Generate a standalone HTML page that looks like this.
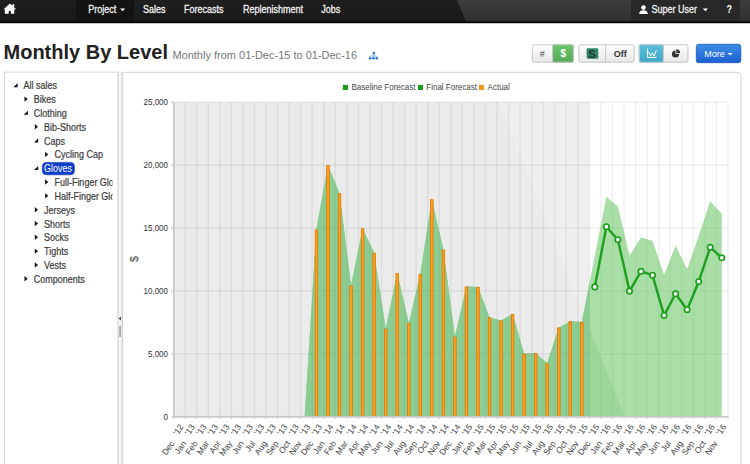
<!DOCTYPE html>
<html><head><meta charset="utf-8"><style>
html,body{margin:0;padding:0;width:750px;height:464px;overflow:hidden;background:#fff;}
svg text{font-family:'Liberation Sans', sans-serif;}
.nv{stroke:#f2f2f2;stroke-width:0.25px;}
.tr{stroke:#3a3a3a;stroke-width:0.18px;}
.ax{stroke:#444;stroke-width:0.15px;}
</style></head><body>
<svg width="750" height="464" viewBox="0 0 750 464" style="display:block">
<defs>
<linearGradient id="nav" x1="0" y1="0" x2="0" y2="1"><stop offset="0" stop-color="#1f1f1f"/><stop offset="1" stop-color="#181818"/></linearGradient>
<linearGradient id="nav2" x1="0" y1="0" x2="0" y2="1"><stop offset="0" stop-color="#3e3e3e"/><stop offset="1" stop-color="#303030"/></linearGradient>
<linearGradient id="btn" x1="0" y1="0" x2="0" y2="1"><stop offset="0" stop-color="#ffffff"/><stop offset="1" stop-color="#e6e6e6"/></linearGradient>
<linearGradient id="btng" x1="0" y1="0" x2="0" y2="1"><stop offset="0" stop-color="#6cc56c"/><stop offset="1" stop-color="#55aa55"/></linearGradient>
<linearGradient id="btnb" x1="0" y1="0" x2="0" y2="1"><stop offset="0" stop-color="#5bbfdb"/><stop offset="1" stop-color="#3ea6c6"/></linearGradient>
<linearGradient id="btnp" x1="0" y1="0" x2="0" y2="1"><stop offset="0" stop-color="#3d8ee8"/><stop offset="1" stop-color="#1a5fcf"/></linearGradient>
</defs>

<rect x="0" y="0" width="750" height="23" fill="url(#nav)"/>
<polygon points="457,0 750,0 750,21.5 466,21.5" fill="url(#nav2)"/>
<rect x="76.2" y="0" width="57.8" height="21.5" fill="#131313"/>
<rect x="631" y="0" width="109" height="21.5" fill="#282828"/>
<rect x="0" y="21.5" width="750" height="1.6" fill="#050505"/><rect x="0" y="23.1" width="750" height="0.6" fill="#000" opacity="0.25"/>
<path d="M3.7,9.3 L9.9,3.4 L12.4,5.8 V4.2 H14.2 V7.5 L16.2,9.3 H14.3 V13.8 H10.9 V11 H8.7 V13.8 H4.8 V9.3 Z" fill="#fff"/>
<text transform="translate(88.2,12.8) scale(1,1.12)" x="0" y="0" font-size="9" fill="#f2f2f2" class="nv">Project</text>
<text transform="translate(143.0,12.8) scale(1,1.12)" x="0" y="0" font-size="9" fill="#f2f2f2" class="nv">Sales</text>
<text transform="translate(184.0,12.8) scale(1,1.12)" x="0" y="0" font-size="9" fill="#f2f2f2" class="nv">Forecasts</text>
<text transform="translate(243.0,12.8) scale(1,1.12)" x="0" y="0" font-size="9" fill="#f2f2f2" class="nv">Replenishment</text>
<text transform="translate(321.3,12.8) scale(1,1.12)" x="0" y="0" font-size="9" fill="#f2f2f2" class="nv">Jobs</text>
<polygon points="120,8.6 125.2,8.6 122.6,11.2" fill="#fff"/>
<g fill="#fff"><circle cx="643.5" cy="7.6" r="2.3"/><path d="M639.2,14 Q639.2,10.2 643.5,10.2 Q647.8,10.2 647.8,14 Z"/></g>
<text transform="translate(651.6,12.8) scale(1,1.12)" x="0" y="0" font-size="9" fill="#f2f2f2" class="nv">Super User</text>
<polygon points="702.8,8.6 708,8.6 705.4,11.2" fill="#fff"/>
<text transform="translate(726.6,12.8) scale(1,1.12)" x="0" y="0" font-size="9" font-weight="bold" fill="#fff">?</text>
<text x="3.5" y="59" font-size="20" font-weight="bold" fill="#222">Monthly By Level</text>
<text x="172.4" y="59.2" font-size="11" fill="#777">Monthly from 01-Dec-15 to 01-Dec-16</text>
<g fill="#1f6fd6"><circle cx="373.8" cy="53.1" r="1.3"/><circle cx="370.2" cy="58.3" r="1.3"/><circle cx="373.5" cy="58.3" r="1.3"/><circle cx="376.8" cy="58.3" r="1.3"/></g><g stroke="#5a9be6" stroke-width="0.7" fill="none"><path d="M373.7,54 V58 M370.2,58 V56 H376.8 V58"/></g>
<rect x="531.9" y="44.3" width="20.700000000000045" height="18.400000000000006" rx="2" fill="url(#btn)" />
<rect x="552.6" y="44.3" width="21.199999999999932" height="18.400000000000006" rx="2" fill="url(#btng)" />
<rect x="532.4" y="44.8" width="40.89999999999998" height="17.400000000000006" rx="2" fill="none" stroke="#c8c8c8" stroke-width="1"/>
<rect x="552.1" y="44.3" width="1" height="18.400000000000006" fill="#c8c8c8"/>
<text x="542.3" y="57" font-size="9" fill="#444" text-anchor="middle">#</text>
<text x="563.2" y="57.3" font-size="10" font-weight="bold" fill="#fff" text-anchor="middle">$</text>
<rect x="578.4" y="44.3" width="27.100000000000023" height="18.400000000000006" rx="2" fill="url(#btn)" />
<rect x="605.5" y="44.3" width="29.200000000000045" height="18.400000000000006" rx="2" fill="url(#btn)" />
<rect x="578.9" y="44.8" width="55.30000000000007" height="17.400000000000006" rx="2" fill="none" stroke="#c8c8c8" stroke-width="1"/>
<rect x="605.0" y="44.3" width="1" height="18.400000000000006" fill="#c8c8c8"/>
<rect x="586.6" y="48.2" width="11.7" height="10.6" rx="1.2" fill="#2a8a68"/>
<text x="592.2" y="57.8" font-size="11.5" font-weight="bold" fill="#303030" text-anchor="middle">S</text>
<text x="620.2" y="57" font-size="9" font-weight="bold" fill="#333" text-anchor="middle">Off</text>
<rect x="638.8" y="44.3" width="24.600000000000023" height="18.400000000000006" rx="2" fill="url(#btnb)" />
<rect x="663.4" y="44.3" width="25.0" height="18.400000000000006" rx="2" fill="url(#btn)" />
<rect x="639.3" y="44.8" width="48.60000000000002" height="17.400000000000006" rx="2" fill="none" stroke="#c8c8c8" stroke-width="1"/>
<rect x="662.9" y="44.3" width="1" height="18.400000000000006" fill="#c8c8c8"/>
<g fill="none" stroke="#fff" stroke-width="1"><path d="M647.6,48.7 V57.4 H656.6"/><path d="M648.8,52 L650.7,56 L652.4,52.8 L654.1,56 L656.3,50.3"/></g>
<g><circle cx="675.5" cy="54" r="3.6" fill="#333"/><path d="M675.5,54 V50.4 A3.6,3.6 0 0 1 679.1,54 Z" fill="#fff"/><path d="M676.3,53.2 V49.2 A4,4 0 0 1 680.1,53.2 Z" fill="#333"/></g>
<rect x="696.3" y="44.3" width="44.5" height="18.4" rx="2.5" fill="url(#btnp)" stroke="#1b55b8" stroke-width="0.8"/>
<text x="704.3" y="57" font-size="9" fill="#fff">More</text>
<polygon points="727.6,53 732.6,53 730.1,55.5" fill="#fff"/>
<rect x="4.5" y="72.1" width="113.5" height="400" fill="#fff" stroke="#d4d4d4" stroke-width="1"/>
<rect x="118" y="72.1" width="4" height="400" fill="#f6f6f6"/>
<rect x="117.8" y="72.1" width="0.8" height="400" fill="#d0d0d0"/>
<rect x="121.5" y="72.1" width="0.8" height="400" fill="#d0d0d0"/>
<polygon points="120.8,316.5 120.8,320.5 118.8,318.5" fill="#222"/>
<rect x="119.5" y="326" width="1.1" height="11" fill="#777"/>
<clipPath id="treeclip"><rect x="5" y="72" width="107.5" height="400"/></clipPath><g clip-path="url(#treeclip)">
<polygon points="17.6,83.0 17.6,87.2 13.4,87.2" fill="#111"/>
<text transform="translate(23.5,89.30) scale(1,1.12)" x="0" y="0" font-size="9" fill="#3a3a3a" class="tr">All sales</text>
<polygon points="24.5,96.42 27.7,99.12 24.5,101.82000000000001" fill="#111"/>
<text transform="translate(33.8,103.12) scale(1,1.12)" x="0" y="0" font-size="9" fill="#3a3a3a" class="tr">Bikes</text>
<polygon points="27.900000000000002,110.64 27.900000000000002,114.84 23.7,114.84" fill="#111"/>
<text transform="translate(33.8,116.94) scale(1,1.12)" x="0" y="0" font-size="9" fill="#3a3a3a" class="tr">Clothing</text>
<polygon points="34.800000000000004,124.05999999999999 38.0,126.75999999999999 34.800000000000004,129.45999999999998" fill="#111"/>
<text transform="translate(44.1,130.76) scale(1,1.12)" x="0" y="0" font-size="9" fill="#3a3a3a" class="tr">Bib-Shorts</text>
<polygon points="38.2,138.27999999999997 38.2,142.48 34.0,142.48" fill="#111"/>
<text transform="translate(44.1,144.58) scale(1,1.12)" x="0" y="0" font-size="9" fill="#3a3a3a" class="tr">Caps</text>
<polygon points="45.10000000000001,151.7 48.300000000000004,154.39999999999998 45.10000000000001,157.09999999999997" fill="#111"/>
<text transform="translate(54.400000000000006,158.40) scale(1,1.12)" x="0" y="0" font-size="9" fill="#3a3a3a" class="tr">Cycling Cap</text>
<polygon points="38.2,165.92 38.2,170.12 34.0,170.12" fill="#111"/>
<rect x="42.4" y="162.4" width="32" height="12.4" rx="3.8" fill="#0f3ec9" stroke="#0a33b0" stroke-width="0.6"/>
<text transform="translate(44.1,172.22) scale(1,1.12)" x="0" y="0" font-size="9" fill="#fff">Gloves</text>
<polygon points="45.10000000000001,179.34000000000003 48.300000000000004,182.04000000000002 45.10000000000001,184.74" fill="#111"/>
<text transform="translate(54.400000000000006,186.04) scale(1,1.12)" x="0" y="0" font-size="9" fill="#3a3a3a" class="tr">Full-Finger Gloves</text>
<polygon points="45.10000000000001,193.16000000000003 48.300000000000004,195.86 45.10000000000001,198.56" fill="#111"/>
<text transform="translate(54.400000000000006,199.86) scale(1,1.12)" x="0" y="0" font-size="9" fill="#3a3a3a" class="tr">Half-Finger Gloves</text>
<polygon points="34.800000000000004,206.98000000000002 38.0,209.68 34.800000000000004,212.38" fill="#111"/>
<text transform="translate(44.1,213.68) scale(1,1.12)" x="0" y="0" font-size="9" fill="#3a3a3a" class="tr">Jerseys</text>
<polygon points="34.800000000000004,220.8 38.0,223.5 34.800000000000004,226.2" fill="#111"/>
<text transform="translate(44.1,227.50) scale(1,1.12)" x="0" y="0" font-size="9" fill="#3a3a3a" class="tr">Shorts</text>
<polygon points="34.800000000000004,234.62 38.0,237.32 34.800000000000004,240.01999999999998" fill="#111"/>
<text transform="translate(44.1,241.32) scale(1,1.12)" x="0" y="0" font-size="9" fill="#3a3a3a" class="tr">Socks</text>
<polygon points="34.800000000000004,248.44 38.0,251.14 34.800000000000004,253.83999999999997" fill="#111"/>
<text transform="translate(44.1,255.14) scale(1,1.12)" x="0" y="0" font-size="9" fill="#3a3a3a" class="tr">Tights</text>
<polygon points="34.800000000000004,262.26 38.0,264.96 34.800000000000004,267.65999999999997" fill="#111"/>
<text transform="translate(44.1,268.96) scale(1,1.12)" x="0" y="0" font-size="9" fill="#3a3a3a" class="tr">Vests</text>
<polygon points="24.5,276.08000000000004 27.7,278.78000000000003 24.5,281.48" fill="#111"/>
<text transform="translate(33.8,282.78) scale(1,1.12)" x="0" y="0" font-size="9" fill="#3a3a3a" class="tr">Components</text>
</g>
<path d="M122.5,472 V72.3 H737 A4,4 0 0 1 741,76.3 V472" fill="#fff" stroke="#d4d4d4" stroke-width="1"/>
<rect x="342.8" y="84.9" width="5.1" height="5.1" fill="#1a9a1a"/>
<text transform="translate(351.5,90) scale(1,1.12)" x="0" y="0" font-size="8" fill="#444">Baseline Forecast</text>
<rect x="417.9" y="84.9" width="5.1" height="5.1" fill="#1a9a1a"/>
<text transform="translate(426.3,90) scale(1,1.12)" x="0" y="0" font-size="8" fill="#444">Final Forecast</text>
<rect x="478.9" y="84.9" width="5.1" height="5.1" fill="#f7941d"/>
<text transform="translate(487.6,90) scale(1,1.12)" x="0" y="0" font-size="8" fill="#444">Actual</text>
<rect x="174.8" y="102.2" width="414.74999999999994" height="314.6" fill="#efefef"/>
<polygon points="174.8,102.2 498.6,102.2 624.7,416.8 174.8,416.8" fill="#ebebeb"/>
<rect x="589.55" y="102.2" width="138.45000000000005" height="314.6" fill="#fff"/>
<rect x="184.45000000000002" y="102.2" width="1.4" height="314.6" fill="#000" opacity="0.062"/>
<rect x="196.0" y="102.2" width="1.4" height="314.6" fill="#000" opacity="0.062"/>
<rect x="207.55" y="102.2" width="1.4" height="314.6" fill="#000" opacity="0.062"/>
<rect x="219.10000000000002" y="102.2" width="1.4" height="314.6" fill="#000" opacity="0.062"/>
<rect x="230.65" y="102.2" width="1.4" height="314.6" fill="#000" opacity="0.062"/>
<rect x="242.20000000000002" y="102.2" width="1.4" height="314.6" fill="#000" opacity="0.062"/>
<rect x="253.75" y="102.2" width="1.4" height="314.6" fill="#000" opacity="0.062"/>
<rect x="265.3" y="102.2" width="1.4" height="314.6" fill="#000" opacity="0.062"/>
<rect x="276.85" y="102.2" width="1.4" height="314.6" fill="#000" opacity="0.062"/>
<rect x="288.40000000000003" y="102.2" width="1.4" height="314.6" fill="#000" opacity="0.062"/>
<rect x="299.95" y="102.2" width="1.4" height="314.6" fill="#000" opacity="0.062"/>
<rect x="311.50000000000006" y="102.2" width="1.4" height="314.6" fill="#000" opacity="0.062"/>
<rect x="323.05" y="102.2" width="1.4" height="314.6" fill="#000" opacity="0.062"/>
<rect x="334.6" y="102.2" width="1.4" height="314.6" fill="#000" opacity="0.062"/>
<rect x="346.15000000000003" y="102.2" width="1.4" height="314.6" fill="#000" opacity="0.062"/>
<rect x="357.7" y="102.2" width="1.4" height="314.6" fill="#000" opacity="0.062"/>
<rect x="369.25000000000006" y="102.2" width="1.4" height="314.6" fill="#000" opacity="0.062"/>
<rect x="380.8" y="102.2" width="1.4" height="314.6" fill="#000" opacity="0.062"/>
<rect x="392.35" y="102.2" width="1.4" height="314.6" fill="#000" opacity="0.062"/>
<rect x="403.90000000000003" y="102.2" width="1.4" height="314.6" fill="#000" opacity="0.062"/>
<rect x="415.45" y="102.2" width="1.4" height="314.6" fill="#000" opacity="0.062"/>
<rect x="427.00000000000006" y="102.2" width="1.4" height="314.6" fill="#000" opacity="0.062"/>
<rect x="438.55" y="102.2" width="1.4" height="314.6" fill="#000" opacity="0.062"/>
<rect x="450.1000000000001" y="102.2" width="1.4" height="314.6" fill="#000" opacity="0.062"/>
<rect x="461.65000000000003" y="102.2" width="1.4" height="314.6" fill="#000" opacity="0.062"/>
<rect x="473.2" y="102.2" width="1.4" height="314.6" fill="#000" opacity="0.062"/>
<rect x="484.75000000000006" y="102.2" width="1.4" height="314.6" fill="#000" opacity="0.062"/>
<rect x="496.3" y="102.2" width="1.4" height="314.6" fill="#000" opacity="0.062"/>
<rect x="507.8500000000001" y="102.2" width="1.4" height="314.6" fill="#000" opacity="0.062"/>
<rect x="519.4" y="102.2" width="1.4" height="314.6" fill="#000" opacity="0.062"/>
<rect x="530.9499999999999" y="102.2" width="1.4" height="314.6" fill="#000" opacity="0.062"/>
<rect x="542.5" y="102.2" width="1.4" height="314.6" fill="#000" opacity="0.062"/>
<rect x="554.05" y="102.2" width="1.4" height="314.6" fill="#000" opacity="0.062"/>
<rect x="565.6" y="102.2" width="1.4" height="314.6" fill="#000" opacity="0.062"/>
<rect x="577.15" y="102.2" width="1.4" height="314.6" fill="#000" opacity="0.062"/>
<rect x="588.6999999999999" y="102.2" width="1.4" height="314.6" fill="#000" opacity="0.062"/>
<rect x="600.25" y="102.2" width="1.4" height="314.6" fill="#000" opacity="0.062"/>
<rect x="611.8" y="102.2" width="1.4" height="314.6" fill="#000" opacity="0.062"/>
<rect x="623.35" y="102.2" width="1.4" height="314.6" fill="#000" opacity="0.062"/>
<rect x="634.9" y="102.2" width="1.4" height="314.6" fill="#000" opacity="0.062"/>
<rect x="646.4499999999999" y="102.2" width="1.4" height="314.6" fill="#000" opacity="0.062"/>
<rect x="658.0" y="102.2" width="1.4" height="314.6" fill="#000" opacity="0.062"/>
<rect x="669.55" y="102.2" width="1.4" height="314.6" fill="#000" opacity="0.062"/>
<rect x="681.1" y="102.2" width="1.4" height="314.6" fill="#000" opacity="0.062"/>
<rect x="692.65" y="102.2" width="1.4" height="314.6" fill="#000" opacity="0.062"/>
<rect x="704.2" y="102.2" width="1.4" height="314.6" fill="#000" opacity="0.062"/>
<rect x="715.75" y="102.2" width="1.4" height="314.6" fill="#000" opacity="0.062"/>
<rect x="727.3000000000001" y="102.2" width="1.4" height="314.6" fill="#000" opacity="0.062"/>
<rect x="174.8" y="353.18" width="553.2" height="1.4" fill="#000" opacity="0.062"/>
<rect x="174.8" y="290.26000000000005" width="553.2" height="1.4" fill="#000" opacity="0.062"/>
<rect x="174.8" y="227.34000000000003" width="553.2" height="1.4" fill="#000" opacity="0.062"/>
<rect x="174.8" y="164.42000000000002" width="553.2" height="1.4" fill="#000" opacity="0.062"/>
<rect x="174.8" y="101.49999999999999" width="553.2" height="1.4" fill="#000" opacity="0.062"/>
<clipPath id="areaclip"><polygon points="304.7,416.8 316.4,229.6 328.0,165.1 339.5,193.4 351.1,285.5 362.6,228.5 374.1,252.8 385.7,328.8 397.2,273.1 408.8,323.4 420.3,274.3 431.8,199.4 443.4,249.7 454.9,336.8 466.4,286.6 478.0,287.0 489.5,317.4 501.1,320.6 512.6,314.1 524.1,353.8 535.7,353.1 547.2,363.3 558.7,327.7 570.3,321.3 581.8,322.1 606.4,196.8 617.9,206.6 629.5,255.4 641.0,237.4 652.5,240.8 664.1,274.7 675.6,245.4 687.1,269.3 698.7,236.0 710.2,201.3 721.8,213.8 721.8,416.8"/></clipPath>
<polygon points="304.7,416.8 316.4,229.6 328.0,165.1 339.5,193.4 351.1,285.5 362.6,228.5 374.1,252.8 385.7,328.8 397.2,273.1 408.8,323.4 420.3,274.3 431.8,199.4 443.4,249.7 454.9,336.8 466.4,286.6 478.0,287.0 489.5,317.4 501.1,320.6 512.6,314.1 524.1,353.8 535.7,353.1 547.2,363.3 558.7,327.7 570.3,321.3 581.8,322.1 606.4,196.8 617.9,206.6 629.5,255.4 641.0,237.4 652.5,240.8 664.1,274.7 675.6,245.4 687.1,269.3 698.7,236.0 710.2,201.3 721.8,213.8 721.8,416.8" fill="#a9dea6"/>
<g clip-path="url(#areaclip)">
<polygon points="174.8,102.2 498.6,102.2 624.7,416.8 174.8,416.8" fill="#9cd799"/>
<rect x="174.8" y="102.2" width="414.74999999999994" height="314.6" fill="#8ccd94"/>
<rect x="184.65" y="102.2" width="1" height="314.6" fill="#000" opacity="0.05"/>
<rect x="196.2" y="102.2" width="1" height="314.6" fill="#000" opacity="0.05"/>
<rect x="207.75" y="102.2" width="1" height="314.6" fill="#000" opacity="0.05"/>
<rect x="219.3" y="102.2" width="1" height="314.6" fill="#000" opacity="0.05"/>
<rect x="230.85" y="102.2" width="1" height="314.6" fill="#000" opacity="0.05"/>
<rect x="242.4" y="102.2" width="1" height="314.6" fill="#000" opacity="0.05"/>
<rect x="253.95" y="102.2" width="1" height="314.6" fill="#000" opacity="0.05"/>
<rect x="265.5" y="102.2" width="1" height="314.6" fill="#000" opacity="0.05"/>
<rect x="277.05" y="102.2" width="1" height="314.6" fill="#000" opacity="0.05"/>
<rect x="288.6" y="102.2" width="1" height="314.6" fill="#000" opacity="0.05"/>
<rect x="300.15" y="102.2" width="1" height="314.6" fill="#000" opacity="0.05"/>
<rect x="311.70000000000005" y="102.2" width="1" height="314.6" fill="#000" opacity="0.05"/>
<rect x="323.25" y="102.2" width="1" height="314.6" fill="#000" opacity="0.05"/>
<rect x="334.8" y="102.2" width="1" height="314.6" fill="#000" opacity="0.05"/>
<rect x="346.35" y="102.2" width="1" height="314.6" fill="#000" opacity="0.05"/>
<rect x="357.9" y="102.2" width="1" height="314.6" fill="#000" opacity="0.05"/>
<rect x="369.45000000000005" y="102.2" width="1" height="314.6" fill="#000" opacity="0.05"/>
<rect x="381.0" y="102.2" width="1" height="314.6" fill="#000" opacity="0.05"/>
<rect x="392.55" y="102.2" width="1" height="314.6" fill="#000" opacity="0.05"/>
<rect x="404.1" y="102.2" width="1" height="314.6" fill="#000" opacity="0.05"/>
<rect x="415.65" y="102.2" width="1" height="314.6" fill="#000" opacity="0.05"/>
<rect x="427.20000000000005" y="102.2" width="1" height="314.6" fill="#000" opacity="0.05"/>
<rect x="438.75" y="102.2" width="1" height="314.6" fill="#000" opacity="0.05"/>
<rect x="450.30000000000007" y="102.2" width="1" height="314.6" fill="#000" opacity="0.05"/>
<rect x="461.85" y="102.2" width="1" height="314.6" fill="#000" opacity="0.05"/>
<rect x="473.4" y="102.2" width="1" height="314.6" fill="#000" opacity="0.05"/>
<rect x="484.95000000000005" y="102.2" width="1" height="314.6" fill="#000" opacity="0.05"/>
<rect x="496.5" y="102.2" width="1" height="314.6" fill="#000" opacity="0.05"/>
<rect x="508.05000000000007" y="102.2" width="1" height="314.6" fill="#000" opacity="0.05"/>
<rect x="519.6" y="102.2" width="1" height="314.6" fill="#000" opacity="0.05"/>
<rect x="531.15" y="102.2" width="1" height="314.6" fill="#000" opacity="0.05"/>
<rect x="542.7" y="102.2" width="1" height="314.6" fill="#000" opacity="0.05"/>
<rect x="554.25" y="102.2" width="1" height="314.6" fill="#000" opacity="0.05"/>
<rect x="565.8000000000001" y="102.2" width="1" height="314.6" fill="#000" opacity="0.05"/>
<rect x="577.35" y="102.2" width="1" height="314.6" fill="#000" opacity="0.05"/>
<rect x="588.9" y="102.2" width="1" height="314.6" fill="#000" opacity="0.05"/>
<rect x="600.45" y="102.2" width="1" height="314.6" fill="#000" opacity="0.05"/>
<rect x="612.0" y="102.2" width="1" height="314.6" fill="#000" opacity="0.05"/>
<rect x="623.5500000000001" y="102.2" width="1" height="314.6" fill="#000" opacity="0.05"/>
<rect x="635.1" y="102.2" width="1" height="314.6" fill="#000" opacity="0.05"/>
<rect x="646.65" y="102.2" width="1" height="314.6" fill="#000" opacity="0.05"/>
<rect x="658.2" y="102.2" width="1" height="314.6" fill="#000" opacity="0.05"/>
<rect x="669.75" y="102.2" width="1" height="314.6" fill="#000" opacity="0.05"/>
<rect x="681.3000000000001" y="102.2" width="1" height="314.6" fill="#000" opacity="0.05"/>
<rect x="692.85" y="102.2" width="1" height="314.6" fill="#000" opacity="0.05"/>
<rect x="704.4000000000001" y="102.2" width="1" height="314.6" fill="#000" opacity="0.05"/>
<rect x="715.95" y="102.2" width="1" height="314.6" fill="#000" opacity="0.05"/>
<rect x="727.5000000000001" y="102.2" width="1" height="314.6" fill="#000" opacity="0.05"/>
<rect x="174.8" y="353.38" width="553.2" height="1" fill="#000" opacity="0.05"/>
<rect x="174.8" y="290.46000000000004" width="553.2" height="1" fill="#000" opacity="0.05"/>
<rect x="174.8" y="227.54000000000002" width="553.2" height="1" fill="#000" opacity="0.05"/>
<rect x="174.8" y="164.62" width="553.2" height="1" fill="#000" opacity="0.05"/>
<rect x="174.8" y="101.69999999999999" width="553.2" height="1" fill="#000" opacity="0.05"/>
</g>
<rect x="315.15" y="229.9" width="2.6" height="186.9" fill="#fba124" stroke="#df7800" stroke-width="0.8"/>
<rect x="326.69" y="165.4" width="2.6" height="251.4" fill="#fba124" stroke="#df7800" stroke-width="0.8"/>
<rect x="338.23" y="193.7" width="2.6" height="223.1" fill="#fba124" stroke="#df7800" stroke-width="0.8"/>
<rect x="349.76" y="285.8" width="2.6" height="131.0" fill="#fba124" stroke="#df7800" stroke-width="0.8"/>
<rect x="361.30" y="228.8" width="2.6" height="188.0" fill="#fba124" stroke="#df7800" stroke-width="0.8"/>
<rect x="372.84" y="253.1" width="2.6" height="163.7" fill="#fba124" stroke="#df7800" stroke-width="0.8"/>
<rect x="384.38" y="329.1" width="2.6" height="87.7" fill="#fba124" stroke="#df7800" stroke-width="0.8"/>
<rect x="395.91" y="273.4" width="2.6" height="143.4" fill="#fba124" stroke="#df7800" stroke-width="0.8"/>
<rect x="407.45" y="323.7" width="2.6" height="93.1" fill="#fba124" stroke="#df7800" stroke-width="0.8"/>
<rect x="418.99" y="274.6" width="2.6" height="142.2" fill="#fba124" stroke="#df7800" stroke-width="0.8"/>
<rect x="430.52" y="199.7" width="2.6" height="217.1" fill="#fba124" stroke="#df7800" stroke-width="0.8"/>
<rect x="442.06" y="250.0" width="2.6" height="166.8" fill="#fba124" stroke="#df7800" stroke-width="0.8"/>
<rect x="453.60" y="337.1" width="2.6" height="79.7" fill="#fba124" stroke="#df7800" stroke-width="0.8"/>
<rect x="465.14" y="286.9" width="2.6" height="129.9" fill="#fba124" stroke="#df7800" stroke-width="0.8"/>
<rect x="476.67" y="287.3" width="2.6" height="129.5" fill="#fba124" stroke="#df7800" stroke-width="0.8"/>
<rect x="488.21" y="317.7" width="2.6" height="99.1" fill="#fba124" stroke="#df7800" stroke-width="0.8"/>
<rect x="499.75" y="320.9" width="2.6" height="95.9" fill="#fba124" stroke="#df7800" stroke-width="0.8"/>
<rect x="511.29" y="314.4" width="2.6" height="102.4" fill="#fba124" stroke="#df7800" stroke-width="0.8"/>
<rect x="522.83" y="354.1" width="2.6" height="62.7" fill="#fba124" stroke="#df7800" stroke-width="0.8"/>
<rect x="534.36" y="353.4" width="2.6" height="63.4" fill="#fba124" stroke="#df7800" stroke-width="0.8"/>
<rect x="545.90" y="363.6" width="2.6" height="53.2" fill="#fba124" stroke="#df7800" stroke-width="0.8"/>
<rect x="557.44" y="328.0" width="2.6" height="88.8" fill="#fba124" stroke="#df7800" stroke-width="0.8"/>
<rect x="568.98" y="321.6" width="2.6" height="95.2" fill="#fba124" stroke="#df7800" stroke-width="0.8"/>
<rect x="580.51" y="322.4" width="2.6" height="94.4" fill="#fba124" stroke="#df7800" stroke-width="0.8"/>
<polyline points="594.8,286.9 606.4,226.7 617.9,239.7 629.5,291.1 641.0,271.4 652.5,275.2 664.1,315.4 675.6,293.8 687.1,309.7 698.7,281.6 710.2,247.3 721.8,257.8" fill="none" stroke="#1f9f1f" stroke-width="2.4" stroke-linejoin="round"/>
<circle cx="594.8" cy="286.9" r="2.7" fill="#fff" stroke="#1f9f1f" stroke-width="1.7"/>
<circle cx="606.4" cy="226.7" r="2.7" fill="#fff" stroke="#1f9f1f" stroke-width="1.7"/>
<circle cx="617.9" cy="239.7" r="2.7" fill="#fff" stroke="#1f9f1f" stroke-width="1.7"/>
<circle cx="629.5" cy="291.1" r="2.7" fill="#fff" stroke="#1f9f1f" stroke-width="1.7"/>
<circle cx="641.0" cy="271.4" r="2.7" fill="#fff" stroke="#1f9f1f" stroke-width="1.7"/>
<circle cx="652.5" cy="275.2" r="2.7" fill="#fff" stroke="#1f9f1f" stroke-width="1.7"/>
<circle cx="664.1" cy="315.4" r="2.7" fill="#fff" stroke="#1f9f1f" stroke-width="1.7"/>
<circle cx="675.6" cy="293.8" r="2.7" fill="#fff" stroke="#1f9f1f" stroke-width="1.7"/>
<circle cx="687.1" cy="309.7" r="2.7" fill="#fff" stroke="#1f9f1f" stroke-width="1.7"/>
<circle cx="698.7" cy="281.6" r="2.7" fill="#fff" stroke="#1f9f1f" stroke-width="1.7"/>
<circle cx="710.2" cy="247.3" r="2.7" fill="#fff" stroke="#1f9f1f" stroke-width="1.7"/>
<circle cx="721.8" cy="257.8" r="2.7" fill="#fff" stroke="#1f9f1f" stroke-width="1.7"/>
<rect x="173" y="102.2" width="1.8" height="315.6" fill="#c8c8c8"/>
<rect x="173" y="415.90000000000003" width="555.5" height="1.8" fill="#c8c8c8"/>
<rect x="171" y="416.3" width="3" height="1" fill="#c8c8c8"/>
<text transform="translate(168,419.5) scale(1,1.12)" x="0" y="0" font-size="8" fill="#333" text-anchor="end">0</text>
<rect x="171" y="353.38" width="3" height="1" fill="#c8c8c8"/>
<text transform="translate(168,356.6) scale(1,1.12)" x="0" y="0" font-size="8" fill="#333" text-anchor="end">5,000</text>
<rect x="171" y="290.46000000000004" width="3" height="1" fill="#c8c8c8"/>
<text transform="translate(168,293.7) scale(1,1.12)" x="0" y="0" font-size="8" fill="#333" text-anchor="end">10,000</text>
<rect x="171" y="227.54000000000002" width="3" height="1" fill="#c8c8c8"/>
<text transform="translate(168,230.7) scale(1,1.12)" x="0" y="0" font-size="8" fill="#333" text-anchor="end">15,000</text>
<rect x="171" y="164.62" width="3" height="1" fill="#c8c8c8"/>
<text transform="translate(168,167.8) scale(1,1.12)" x="0" y="0" font-size="8" fill="#333" text-anchor="end">20,000</text>
<rect x="171" y="101.69999999999999" width="3" height="1" fill="#c8c8c8"/>
<text transform="translate(168,104.9) scale(1,1.12)" x="0" y="0" font-size="8" fill="#333" text-anchor="end">25,000</text>
<rect x="173.10" y="416.8" width="1" height="2.3" fill="#c8c8c8"/>
<rect x="184.65" y="416.8" width="1" height="2.3" fill="#c8c8c8"/>
<rect x="196.20" y="416.8" width="1" height="2.3" fill="#c8c8c8"/>
<rect x="207.75" y="416.8" width="1" height="2.3" fill="#c8c8c8"/>
<rect x="219.30" y="416.8" width="1" height="2.3" fill="#c8c8c8"/>
<rect x="230.85" y="416.8" width="1" height="2.3" fill="#c8c8c8"/>
<rect x="242.40" y="416.8" width="1" height="2.3" fill="#c8c8c8"/>
<rect x="253.95" y="416.8" width="1" height="2.3" fill="#c8c8c8"/>
<rect x="265.50" y="416.8" width="1" height="2.3" fill="#c8c8c8"/>
<rect x="277.05" y="416.8" width="1" height="2.3" fill="#c8c8c8"/>
<rect x="288.60" y="416.8" width="1" height="2.3" fill="#c8c8c8"/>
<rect x="300.15" y="416.8" width="1" height="2.3" fill="#c8c8c8"/>
<rect x="311.70" y="416.8" width="1" height="2.3" fill="#c8c8c8"/>
<rect x="323.25" y="416.8" width="1" height="2.3" fill="#c8c8c8"/>
<rect x="334.80" y="416.8" width="1" height="2.3" fill="#c8c8c8"/>
<rect x="346.35" y="416.8" width="1" height="2.3" fill="#c8c8c8"/>
<rect x="357.90" y="416.8" width="1" height="2.3" fill="#c8c8c8"/>
<rect x="369.45" y="416.8" width="1" height="2.3" fill="#c8c8c8"/>
<rect x="381.00" y="416.8" width="1" height="2.3" fill="#c8c8c8"/>
<rect x="392.55" y="416.8" width="1" height="2.3" fill="#c8c8c8"/>
<rect x="404.10" y="416.8" width="1" height="2.3" fill="#c8c8c8"/>
<rect x="415.65" y="416.8" width="1" height="2.3" fill="#c8c8c8"/>
<rect x="427.20" y="416.8" width="1" height="2.3" fill="#c8c8c8"/>
<rect x="438.75" y="416.8" width="1" height="2.3" fill="#c8c8c8"/>
<rect x="450.30" y="416.8" width="1" height="2.3" fill="#c8c8c8"/>
<rect x="461.85" y="416.8" width="1" height="2.3" fill="#c8c8c8"/>
<rect x="473.40" y="416.8" width="1" height="2.3" fill="#c8c8c8"/>
<rect x="484.95" y="416.8" width="1" height="2.3" fill="#c8c8c8"/>
<rect x="496.50" y="416.8" width="1" height="2.3" fill="#c8c8c8"/>
<rect x="508.05" y="416.8" width="1" height="2.3" fill="#c8c8c8"/>
<rect x="519.60" y="416.8" width="1" height="2.3" fill="#c8c8c8"/>
<rect x="531.15" y="416.8" width="1" height="2.3" fill="#c8c8c8"/>
<rect x="542.70" y="416.8" width="1" height="2.3" fill="#c8c8c8"/>
<rect x="554.25" y="416.8" width="1" height="2.3" fill="#c8c8c8"/>
<rect x="565.80" y="416.8" width="1" height="2.3" fill="#c8c8c8"/>
<rect x="577.35" y="416.8" width="1" height="2.3" fill="#c8c8c8"/>
<rect x="588.90" y="416.8" width="1" height="2.3" fill="#c8c8c8"/>
<rect x="600.45" y="416.8" width="1" height="2.3" fill="#c8c8c8"/>
<rect x="612.00" y="416.8" width="1" height="2.3" fill="#c8c8c8"/>
<rect x="623.55" y="416.8" width="1" height="2.3" fill="#c8c8c8"/>
<rect x="635.10" y="416.8" width="1" height="2.3" fill="#c8c8c8"/>
<rect x="646.65" y="416.8" width="1" height="2.3" fill="#c8c8c8"/>
<rect x="658.20" y="416.8" width="1" height="2.3" fill="#c8c8c8"/>
<rect x="669.75" y="416.8" width="1" height="2.3" fill="#c8c8c8"/>
<rect x="681.30" y="416.8" width="1" height="2.3" fill="#c8c8c8"/>
<rect x="692.85" y="416.8" width="1" height="2.3" fill="#c8c8c8"/>
<rect x="704.40" y="416.8" width="1" height="2.3" fill="#c8c8c8"/>
<rect x="715.95" y="416.8" width="1" height="2.3" fill="#c8c8c8"/>
<rect x="727.50" y="416.8" width="1" height="2.3" fill="#c8c8c8"/>
<text transform="translate(137.9,259.2) rotate(-90)" font-size="10.5" fill="#333" text-anchor="middle">$</text>
<text transform="translate(183.8,426.9) rotate(-55)" font-size="8.5" fill="#444" text-anchor="end">'12</text>
<text transform="translate(175.0,443.4) rotate(-55)" font-size="8.5" fill="#444" text-anchor="end">Dec</text>
<text transform="translate(195.3,426.9) rotate(-55)" font-size="8.5" fill="#444" text-anchor="end">'13</text>
<text transform="translate(186.6,443.4) rotate(-55)" font-size="8.5" fill="#444" text-anchor="end">Jan</text>
<text transform="translate(206.9,426.9) rotate(-55)" font-size="8.5" fill="#444" text-anchor="end">'13</text>
<text transform="translate(198.1,443.4) rotate(-55)" font-size="8.5" fill="#444" text-anchor="end">Feb</text>
<text transform="translate(218.4,426.9) rotate(-55)" font-size="8.5" fill="#444" text-anchor="end">'13</text>
<text transform="translate(209.7,443.4) rotate(-55)" font-size="8.5" fill="#444" text-anchor="end">Mar</text>
<text transform="translate(230.0,426.9) rotate(-55)" font-size="8.5" fill="#444" text-anchor="end">'13</text>
<text transform="translate(221.2,443.4) rotate(-55)" font-size="8.5" fill="#444" text-anchor="end">Apr</text>
<text transform="translate(241.5,426.9) rotate(-55)" font-size="8.5" fill="#444" text-anchor="end">'13</text>
<text transform="translate(232.8,443.4) rotate(-55)" font-size="8.5" fill="#444" text-anchor="end">May</text>
<text transform="translate(253.1,426.9) rotate(-55)" font-size="8.5" fill="#444" text-anchor="end">'13</text>
<text transform="translate(244.3,443.4) rotate(-55)" font-size="8.5" fill="#444" text-anchor="end">Jun</text>
<text transform="translate(264.6,426.9) rotate(-55)" font-size="8.5" fill="#444" text-anchor="end">'13</text>
<text transform="translate(255.8,443.4) rotate(-55)" font-size="8.5" fill="#444" text-anchor="end">Jul</text>
<text transform="translate(276.2,426.9) rotate(-55)" font-size="8.5" fill="#444" text-anchor="end">'13</text>
<text transform="translate(267.4,443.4) rotate(-55)" font-size="8.5" fill="#444" text-anchor="end">Aug</text>
<text transform="translate(287.8,426.9) rotate(-55)" font-size="8.5" fill="#444" text-anchor="end">'13</text>
<text transform="translate(278.9,443.4) rotate(-55)" font-size="8.5" fill="#444" text-anchor="end">Sep</text>
<text transform="translate(299.3,426.9) rotate(-55)" font-size="8.5" fill="#444" text-anchor="end">'13</text>
<text transform="translate(290.5,443.4) rotate(-55)" font-size="8.5" fill="#444" text-anchor="end">Oct</text>
<text transform="translate(310.8,426.9) rotate(-55)" font-size="8.5" fill="#444" text-anchor="end">'13</text>
<text transform="translate(302.0,443.4) rotate(-55)" font-size="8.5" fill="#444" text-anchor="end">Nov</text>
<text transform="translate(322.4,426.9) rotate(-55)" font-size="8.5" fill="#444" text-anchor="end">'13</text>
<text transform="translate(313.6,443.4) rotate(-55)" font-size="8.5" fill="#444" text-anchor="end">Dec</text>
<text transform="translate(333.9,426.9) rotate(-55)" font-size="8.5" fill="#444" text-anchor="end">'14</text>
<text transform="translate(325.1,443.4) rotate(-55)" font-size="8.5" fill="#444" text-anchor="end">Jan</text>
<text transform="translate(345.5,426.9) rotate(-55)" font-size="8.5" fill="#444" text-anchor="end">'14</text>
<text transform="translate(336.7,443.4) rotate(-55)" font-size="8.5" fill="#444" text-anchor="end">Feb</text>
<text transform="translate(357.1,426.9) rotate(-55)" font-size="8.5" fill="#444" text-anchor="end">'14</text>
<text transform="translate(348.2,443.4) rotate(-55)" font-size="8.5" fill="#444" text-anchor="end">Mar</text>
<text transform="translate(368.6,426.9) rotate(-55)" font-size="8.5" fill="#444" text-anchor="end">'14</text>
<text transform="translate(359.8,443.4) rotate(-55)" font-size="8.5" fill="#444" text-anchor="end">Apr</text>
<text transform="translate(380.2,426.9) rotate(-55)" font-size="8.5" fill="#444" text-anchor="end">'14</text>
<text transform="translate(371.4,443.4) rotate(-55)" font-size="8.5" fill="#444" text-anchor="end">May</text>
<text transform="translate(391.7,426.9) rotate(-55)" font-size="8.5" fill="#444" text-anchor="end">'14</text>
<text transform="translate(382.9,443.4) rotate(-55)" font-size="8.5" fill="#444" text-anchor="end">Jun</text>
<text transform="translate(403.2,426.9) rotate(-55)" font-size="8.5" fill="#444" text-anchor="end">'14</text>
<text transform="translate(394.4,443.4) rotate(-55)" font-size="8.5" fill="#444" text-anchor="end">Jul</text>
<text transform="translate(414.8,426.9) rotate(-55)" font-size="8.5" fill="#444" text-anchor="end">'14</text>
<text transform="translate(406.0,443.4) rotate(-55)" font-size="8.5" fill="#444" text-anchor="end">Aug</text>
<text transform="translate(426.3,426.9) rotate(-55)" font-size="8.5" fill="#444" text-anchor="end">'14</text>
<text transform="translate(417.5,443.4) rotate(-55)" font-size="8.5" fill="#444" text-anchor="end">Sep</text>
<text transform="translate(437.9,426.9) rotate(-55)" font-size="8.5" fill="#444" text-anchor="end">'14</text>
<text transform="translate(429.1,443.4) rotate(-55)" font-size="8.5" fill="#444" text-anchor="end">Oct</text>
<text transform="translate(449.4,426.9) rotate(-55)" font-size="8.5" fill="#444" text-anchor="end">'14</text>
<text transform="translate(440.6,443.4) rotate(-55)" font-size="8.5" fill="#444" text-anchor="end">Nov</text>
<text transform="translate(461.0,426.9) rotate(-55)" font-size="8.5" fill="#444" text-anchor="end">'14</text>
<text transform="translate(452.2,443.4) rotate(-55)" font-size="8.5" fill="#444" text-anchor="end">Dec</text>
<text transform="translate(472.6,426.9) rotate(-55)" font-size="8.5" fill="#444" text-anchor="end">'15</text>
<text transform="translate(463.8,443.4) rotate(-55)" font-size="8.5" fill="#444" text-anchor="end">Jan</text>
<text transform="translate(484.1,426.9) rotate(-55)" font-size="8.5" fill="#444" text-anchor="end">'15</text>
<text transform="translate(475.3,443.4) rotate(-55)" font-size="8.5" fill="#444" text-anchor="end">Feb</text>
<text transform="translate(495.7,426.9) rotate(-55)" font-size="8.5" fill="#444" text-anchor="end">'15</text>
<text transform="translate(486.9,443.4) rotate(-55)" font-size="8.5" fill="#444" text-anchor="end">Mar</text>
<text transform="translate(507.2,426.9) rotate(-55)" font-size="8.5" fill="#444" text-anchor="end">'15</text>
<text transform="translate(498.4,443.4) rotate(-55)" font-size="8.5" fill="#444" text-anchor="end">Apr</text>
<text transform="translate(518.8,426.9) rotate(-55)" font-size="8.5" fill="#444" text-anchor="end">'15</text>
<text transform="translate(510.0,443.4) rotate(-55)" font-size="8.5" fill="#444" text-anchor="end">May</text>
<text transform="translate(530.3,426.9) rotate(-55)" font-size="8.5" fill="#444" text-anchor="end">'15</text>
<text transform="translate(521.5,443.4) rotate(-55)" font-size="8.5" fill="#444" text-anchor="end">Jun</text>
<text transform="translate(541.9,426.9) rotate(-55)" font-size="8.5" fill="#444" text-anchor="end">'15</text>
<text transform="translate(533.0,443.4) rotate(-55)" font-size="8.5" fill="#444" text-anchor="end">Jul</text>
<text transform="translate(553.4,426.9) rotate(-55)" font-size="8.5" fill="#444" text-anchor="end">'15</text>
<text transform="translate(544.6,443.4) rotate(-55)" font-size="8.5" fill="#444" text-anchor="end">Aug</text>
<text transform="translate(565.0,426.9) rotate(-55)" font-size="8.5" fill="#444" text-anchor="end">'15</text>
<text transform="translate(556.1,443.4) rotate(-55)" font-size="8.5" fill="#444" text-anchor="end">Sep</text>
<text transform="translate(576.5,426.9) rotate(-55)" font-size="8.5" fill="#444" text-anchor="end">'15</text>
<text transform="translate(567.7,443.4) rotate(-55)" font-size="8.5" fill="#444" text-anchor="end">Oct</text>
<text transform="translate(588.1,426.9) rotate(-55)" font-size="8.5" fill="#444" text-anchor="end">'15</text>
<text transform="translate(579.2,443.4) rotate(-55)" font-size="8.5" fill="#444" text-anchor="end">Nov</text>
<text transform="translate(599.6,426.9) rotate(-55)" font-size="8.5" fill="#444" text-anchor="end">'15</text>
<text transform="translate(590.8,443.4) rotate(-55)" font-size="8.5" fill="#444" text-anchor="end">Dec</text>
<text transform="translate(611.2,426.9) rotate(-55)" font-size="8.5" fill="#444" text-anchor="end">'16</text>
<text transform="translate(602.4,443.4) rotate(-55)" font-size="8.5" fill="#444" text-anchor="end">Jan</text>
<text transform="translate(622.7,426.9) rotate(-55)" font-size="8.5" fill="#444" text-anchor="end">'16</text>
<text transform="translate(613.9,443.4) rotate(-55)" font-size="8.5" fill="#444" text-anchor="end">Feb</text>
<text transform="translate(634.3,426.9) rotate(-55)" font-size="8.5" fill="#444" text-anchor="end">'16</text>
<text transform="translate(625.5,443.4) rotate(-55)" font-size="8.5" fill="#444" text-anchor="end">Mar</text>
<text transform="translate(645.8,426.9) rotate(-55)" font-size="8.5" fill="#444" text-anchor="end">'16</text>
<text transform="translate(637.0,443.4) rotate(-55)" font-size="8.5" fill="#444" text-anchor="end">Apr</text>
<text transform="translate(657.4,426.9) rotate(-55)" font-size="8.5" fill="#444" text-anchor="end">'16</text>
<text transform="translate(648.5,443.4) rotate(-55)" font-size="8.5" fill="#444" text-anchor="end">May</text>
<text transform="translate(668.9,426.9) rotate(-55)" font-size="8.5" fill="#444" text-anchor="end">'16</text>
<text transform="translate(660.1,443.4) rotate(-55)" font-size="8.5" fill="#444" text-anchor="end">Jun</text>
<text transform="translate(680.5,426.9) rotate(-55)" font-size="8.5" fill="#444" text-anchor="end">'16</text>
<text transform="translate(671.6,443.4) rotate(-55)" font-size="8.5" fill="#444" text-anchor="end">Jul</text>
<text transform="translate(692.0,426.9) rotate(-55)" font-size="8.5" fill="#444" text-anchor="end">'16</text>
<text transform="translate(683.2,443.4) rotate(-55)" font-size="8.5" fill="#444" text-anchor="end">Aug</text>
<text transform="translate(703.6,426.9) rotate(-55)" font-size="8.5" fill="#444" text-anchor="end">'16</text>
<text transform="translate(694.8,443.4) rotate(-55)" font-size="8.5" fill="#444" text-anchor="end">Sep</text>
<text transform="translate(715.1,426.9) rotate(-55)" font-size="8.5" fill="#444" text-anchor="end">'16</text>
<text transform="translate(706.3,443.4) rotate(-55)" font-size="8.5" fill="#444" text-anchor="end">Oct</text>
<text transform="translate(726.7,426.9) rotate(-55)" font-size="8.5" fill="#444" text-anchor="end">'16</text>
<text transform="translate(717.9,443.4) rotate(-55)" font-size="8.5" fill="#444" text-anchor="end">Nov</text>
</svg></body></html>
